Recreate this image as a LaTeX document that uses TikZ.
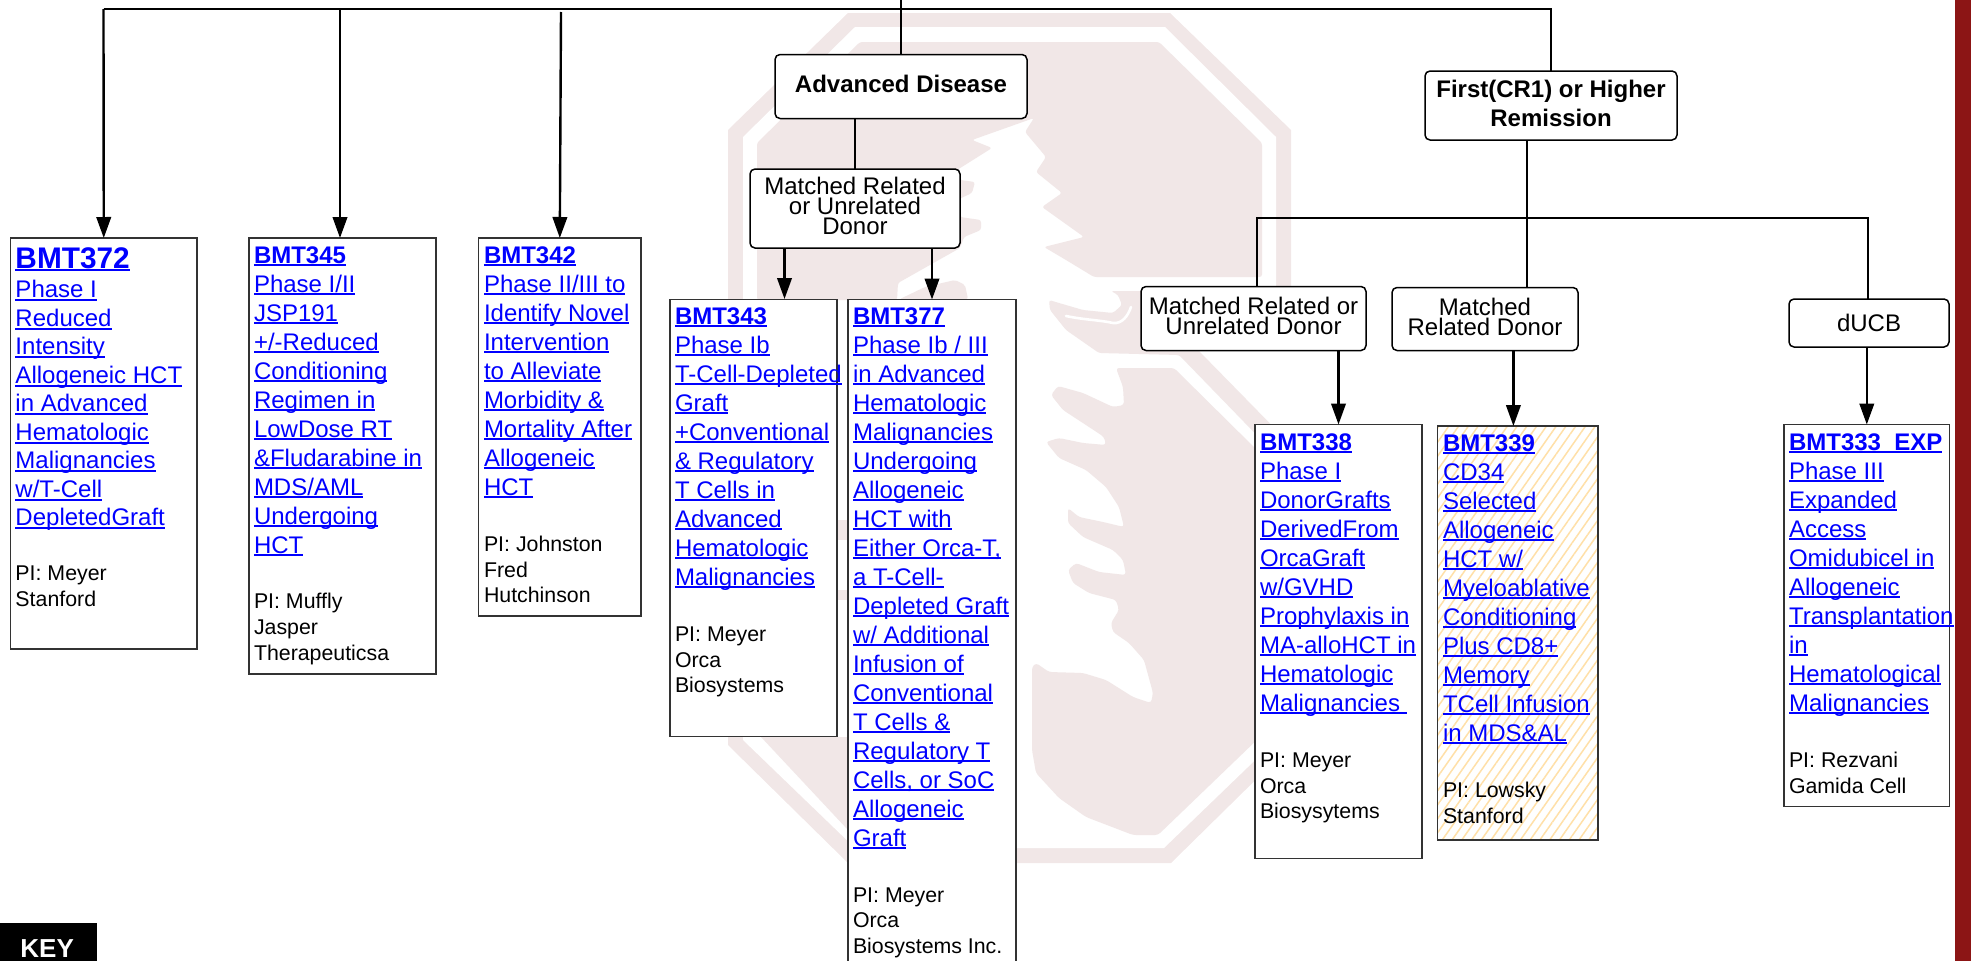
\documentclass[tikz,border=0pt]{standalone}
\usepackage{fontspec}
\setmainfont{Liberation Sans}
\usetikzlibrary{arrows.meta,patterns.meta}
\definecolor{wm}{HTML}{F1E7E7}
\definecolor{linkblue}{HTML}{0000FF}
\definecolor{cardinal}{HTML}{8C1515}
\definecolor{hatch}{HTML}{FFE0A8}
\definecolor{edge}{HTML}{333333}
\hfuzz=200pt
\lineskiplimit=-100pt
\newdimen\lp \lp=29pt
\newdimen\lpad
\newcommand\lk[1]{\leavevmode\setbox0\hbox{#1}\rlap{\rule[-3.4pt]{\wd0}{2pt}}\box0 }
\newcommand\putline[2]{\vskip#1\relax\nointerlineskip\hbox to\hsize{\kern\lpad\smash{\hbox{#2}}\hss}}
% lift the centred text of a group box a little
\newcommand\dn{\vrule depth 5pt width 0pt height 0pt\relax}
% title line: skip, text
\newcommand\TT[2]{\putline{#1pt}{\color{linkblue}\fontsize{24pt}{29pt}\bfseries\selectfont\lk{#2}}}
\newcommand\TTbig[2]{\putline{#1pt}{\color{linkblue}\fontsize{29.8pt}{29pt}\bfseries\selectfont\lk{#2}}}
\newcommand\LL[1]{\putline{\lp}{\color{linkblue}\fontsize{24pt}{29pt}\selectfont\lk{#1}}}
\newcommand\PI[2]{\putline{#1pt}{\color{black}\fontsize{21.33pt}{26pt}\selectfont #2}}
% width, height, text pad, lines
\newcommand\tbody[4]{\vbox to #2pt{\hsize=#1pt\lpad=#3pt\relax #4\vss}}
\tikzset{
  x=1pt,y=-1pt,
  trial/.style={draw=edge,line width=1.5pt,fill=white,inner sep=0pt,outer sep=0pt,anchor=north west},
  hatched/.style={trial,preaction={fill=white},fill=none,pattern={Lines[angle=55,distance=8pt,line width=1.5pt]},pattern color=hatch},
  group/.style={draw=black,line width=1.5pt,fill=white,rounded corners=5pt,inner sep=0pt,outer sep=0pt,align=center,anchor=north west,
     font=\fontsize{24pt}{20pt}\selectfont},
  groupb/.style={group,font=\fontsize{24pt}{29pt}\bfseries\selectfont},
  conn/.style={draw=black,line width=2.4pt,line join=miter},
  arr/.style={conn,-{Triangle[length=21pt,width=14.5pt]}},
  keybox/.style={fill=black,text=white,inner sep=0pt,anchor=north west,minimum width=97pt,minimum height=50pt,font=\fontsize{26pt}{29pt}\bfseries\selectfont},
}
\begin{document}
\begin{tikzpicture}
\useasboundingbox (0,0) rectangle (1971,961);
% watermark: block S with tree
\fill[wm] (848,13) -- (1170,13) -- (1291,130) -- (1291,745) -- (1171,863) -- (848,863) -- (728,745) -- (728,130) -- cycle;
\fill[white] (855,27) -- (1165,27) -- (1276,137) -- (1276,740) -- (1164,848) -- (855,848) -- (743,740) -- (743,137) -- cycle;
% cut out right of the middle band
\fill[white] (1198,350) -- (1293,350) -- (1293,447) -- cycle;
% upper field, left and right of the tree
\fill[wm,rounded corners=2.5pt] (860,42) -- (1159,42) -- (1262,143) -- (1262,277) -- (1094,277) -- (1066,260) -- (1044,247) -- (1084,237) -- (1042,207) -- (1062,193) -- (1036,172) -- (1046,157) -- (1025,132) -- (1034,118) -- (972,140) -- (992,148) -- (957,170) -- (960,180) -- (975,182) -- (972,193) -- (957,200) -- (960,217) -- (981,220) -- (981,230) -- (964,237) -- (960,248) -- (898,283) -- (897,300) -- (757,300) -- (757,143) -- cycle;
\fill[wm,rounded corners=2pt] (900,299) -- (925,287) -- (955,280) -- (965,285) -- (968,299) -- cycle;
% middle band
\fill[wm,rounded corners=2.5pt] (1111,291) -- (1118,295) -- (1122,305) -- (1113,313) -- (1083,310) -- (1059,303) -- (1049,300) -- (1050,310) -- (1066,330) -- (1099,353) -- (1179,355) -- (1276,455) -- (1293,447) -- (1198,350) -- (1198,291) -- cycle;
\draw[white,line width=2.6pt,line cap=round] (1066,316) .. controls (1085,320) and (1100,320) .. (1113,323) .. controls (1122,324) and (1128,316) .. (1131,307);
% lower field with the tree's right edge
\fill[wm,rounded corners=3pt] (1116,368) -- (1174,368) -- (1262,455) -- (1262,735) -- (1158,835) -- (1133,835) -- (1086,817) -- (1059,798) -- (1036,773) -- (1032,750) -- (1032,667) -- (1036,663) -- (1049,672) -- (1083,673) -- (1106,680) -- (1133,697) -- (1151,703) -- (1153,693) -- (1144,660) -- (1129,643) -- (1113,632) -- (1111,623) -- (1119,610) -- (1116,600) -- (1089,593) -- (1073,583) -- (1068,570) -- (1076,563) -- (1099,572) -- (1126,575) -- (1123,560) -- (1113,550) -- (1083,537) -- (1068,523) -- (1068,508) -- (1079,517) -- (1103,522) -- (1124,527) -- (1119,507) -- (1106,487) -- (1086,470) -- (1059,458) -- (1046,442) -- (1059,438) -- (1083,443) -- (1106,445) -- (1104,437) -- (1089,427) -- (1063,410) -- (1051,395) -- (1058,386) -- (1083,393) -- (1113,407) -- (1124,405) -- (1123,387) -- cycle;
% lower left field and glimpses between the boxes
\fill[wm] (761,737) -- (848,830) -- (848,737) -- cycle;
\fill[wm] (837,520) rectangle (848,540);
\fill[wm] (837,590) rectangle (848,600);
% right-hand bar
\fill[cardinal] (1954.5,0) rectangle (1971,961);

% trial boxes
\node[trial] (b372) at (10.5,238) {\tbody{186.5}{411}{5}{\lp=28.45pt
  \TTbig{30}{BMT372}\vskip1.5pt\LL{Phase I}\LL{Reduced}\LL{Intensity}\LL{Allogeneic HCT}\LL{in Advanced}\LL{Hematologic}\LL{Malignancies}\LL{w/T-Cell}\LL{DepletedGraft}
  \PI{55}{PI: Meyer}\PI{26}{Stanford}}};
\node[trial] (b345) at (249,238) {\tbody{187}{436}{5}{
  \TT{25}{BMT345}\LL{Phase I/II}\LL{JSP191}\LL{+/-Reduced}\LL{Conditioning}\LL{Regimen in}\LL{LowDose RT}\LL{\&Fludarabine in}\LL{MDS/AML}\LL{Undergoing}\LL{HCT}
  \PI{55}{PI: Muffly}\PI{26}{Jasper}\PI{26}{Therapeuticsa}}};
\node[trial] (b342) at (478.6,238) {\tbody{162.4}{378}{5.4}{
  \TT{25}{BMT342}\LL{Phase II/III to}\LL{Identify Novel}\LL{Intervention}\LL{to Alleviate}\LL{Morbidity \&}\LL{Mortality After}\LL{Allogeneic}\LL{HCT}
  \PI{56}{PI: Johnston}\PI{26}{Fred}\PI{25}{Hutchinson}}};
\node[trial] (b343) at (670,299.5) {\tbody{167}{437}{5}{
  \TT{24.5}{BMT343}\LL{Phase Ib}\LL{T-Cell-Depleted}\LL{Graft}\LL{+Conventional}\LL{\& Regulatory}\LL{T Cells in}\LL{Advanced}\LL{Hematologic}\LL{Malignancies}
  \PI{56}{PI: Meyer}\PI{26}{Orca}\PI{25}{Biosystems}}};
\node[trial] (b377) at (848,299.5) {\tbody{168}{680}{5}{
  \TT{24.5}{BMT377}\LL{Phase Ib / III}\LL{in Advanced}\LL{Hematologic}\LL{Malignancies}\LL{Undergoing}\LL{Allogeneic}\LL{HCT with}\LL{Either Orca-T,}\LL{a T-Cell-}\LL{Depleted Graft}\LL{w/ Additional}\LL{Infusion of}\LL{Conventional}\LL{T Cells \&}\LL{Regulatory T}\LL{Cells, or SoC}\LL{Allogeneic}\LL{Graft}
  \PI{56}{PI: Meyer}\PI{25}{Orca}\PI{26}{Biosystems Inc.}}};
\node[trial] (b338) at (1255,424.5) {\tbody{167}{434}{5}{
  \TT{25.5}{BMT338}\LL{Phase I}\LL{DonorGrafts}\LL{DerivedFrom}\LL{OrcaGraft}\LL{w/GVHD}\LL{Prophylaxis in}\LL{MA-alloHCT in}\LL{Hematologic}\LL{Malignancies\ }
  \PI{56}{PI: Meyer}\PI{26}{Orca}\PI{25}{Biosysytems}}};
\node[hatched] (b339) at (1437.5,426) {\tbody{160.5}{414}{5.5}{
  \TT{25}{BMT339}\LL{CD34}\LL{Selected}\LL{Allogeneic}\LL{HCT w/}\LL{Myeloablative}\LL{Conditioning}\LL{Plus CD8+}\LL{Memory}\LL{TCell Infusion}\LL{in MDS\&AL}
  \PI{56}{PI: Lowsky}\PI{26}{Stanford}}};
\node[trial] (b333) at (1784,424.5) {\tbody{165.6}{382}{5}{
  \TT{25.5}{BMT333\_EXP}\LL{Phase III}\LL{Expanded}\LL{Access}\LL{Omidubicel in}\LL{Allogeneic}\LL{Transplantation}\LL{in}\LL{Hematological}\LL{Malignancies}
  \PI{56}{PI: Rezvani}\PI{26}{Gamida Cell}}};

% grouping boxes
\node[groupb,minimum width=252pt,minimum height=64pt] (ad) at (775,54.5) {Advanced Disease\dn};
\node[group,minimum width=210pt,minimum height=79pt] (mrel) at (750,169) {Matched Related\\or Unrelated\\Donor\dn};
\node[groupb,minimum width=252pt,minimum height=69pt] (first) at (1425,71) {First(CR1) or Higher\\Remission\dn};
\node[group,minimum width=225pt,minimum height=64pt] (mrud) at (1141,286.5) {Matched Related or\\Unrelated Donor\dn};
\node[group,minimum width=186pt,minimum height=63pt] (mr) at (1392,287.5) {Matched\\Related Donor\dn};
\node[group,minimum width=160pt,minimum height=48pt] (ducb) at (1789,299) {dUCB};
\node[keybox] (key) at (0,923) {KEY\kern3pt};

% connectors
\coordinate (tL) at (103.5,9);
\coordinate (t345) at (340,9);
\coordinate (t342) at (561,12);
\coordinate (t0) at (901,0);
\coordinate (a343) at (784.5,299);
\coordinate (s1) at (1527,218);
\coordinate (busL) at (1257,218);
\coordinate (busR) at (1868,218);
\coordinate (a339) at (1513.4,426);
\draw[conn] (tL) -- (tL -| first.north) -- (first.north);
\draw[arr] (tL) -- (b372.north);
\draw[arr] (t345) -- (t345 |- b345.north);
\draw[arr] (t342) -- (b342.north);
\draw[conn] (t0) -- (ad.north);
\draw[conn] (ad.south -| mrel.north) -- (mrel.north);
\draw[arr] (mrel.south -| a343) -- (a343);
\draw[arr] (mrel.south -| b377.north) -- (b377.north);
\draw[conn] (first.south -| s1) -- (s1 |- mr.north);
\draw[conn] (busL |- mrud.north) -- (busL) -- (busR) -- (busR |- ducb.north);
\draw[arr] (mrud.south -| b338.north) -- (b338.north);
\draw[arr] (mr.south -| a339) -- (a339);
\draw[arr] (ducb.south -| b333.north) -- (b333.north);
\end{tikzpicture}
\end{document}
